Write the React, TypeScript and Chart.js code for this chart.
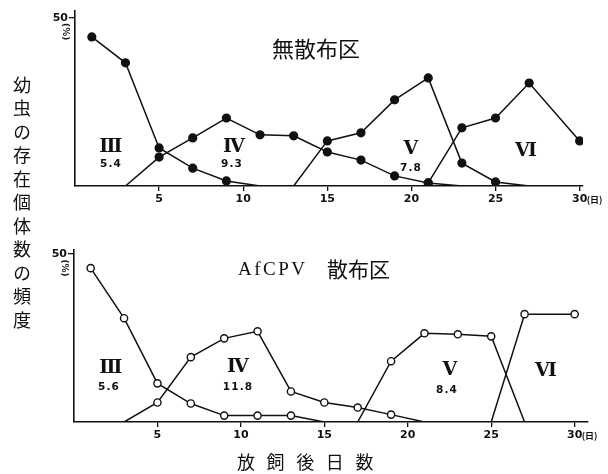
import React, { useEffect, useRef } from "react";
import { Chart, registerables } from "chart.js";

Chart.register(...registerables);

// ---- data ----
const tickDays = [5, 10, 15, 20, 25, 30];
const stageNames = ["III", "IV", "V", "VI"];

// 無散布区 (filled markers)
const ctrlIIIDays = [1, 3, 5, 7, 9, 11];
const ctrlIII = [44.3, 36.6, 11.3, 5.3, 1.5, 0];
const ctrlIVDays = [3, 5, 7, 9, 11, 13, 15, 17, 19, 21, 23];
const ctrlIV = [0, 8.6, 14.3, 20.2, 15.2, 14.9, 10.1, 7.7, 3.0, 0.9, 0];
const ctrlVDays = [13, 15, 17, 19, 21, 23, 25, 27];
const ctrlV = [0, 13.4, 15.8, 25.6, 32.1, 6.8, 1.2, 0];
const ctrlVIDays = [21, 23, 25, 27, 30];
const ctrlVI = [0.9, 17.3, 20.2, 30.6, 13.4];
const ctrlMeans = ["5.4", "9.3", "7.8"];

// AfCPV散布区 (open markers)
const virIIIDays = [1, 3, 5, 7, 9, 11, 13, 15];
const virIII = [45.8, 30.9, 11.5, 5.5, 1.9, 1.9, 1.9, 0];
const virIVDays = [3, 5, 7, 9, 11, 13, 15, 17, 19, 21];
const virIV = [0, 5.8, 19.3, 24.9, 27.0, 9.1, 5.8, 4.3, 2.2, 0];
const virVDays = [17, 19, 21, 23, 25, 27];
const virV = [0, 18.1, 26.4, 26.1, 25.5, 0];
const virVIDays = [25, 27, 30];
const virVI = [0, 32.1, 32.1];
const virMeans = ["5.6", "11.8", "8.4"];

const INK = "#111111";

const pts = (days: number[], vals: number[]) =>
  days.map((d, i) => ({ x: d, y: vals[i] }));

const axisExtras = {
  id: "axisExtras",
  afterDraw(chart: any) {
    const { ctx, scales } = chart;
    const x = scales.x;
    const y = scales.y;
    const py = y.getPixelForValue(50);
    ctx.save();
    ctx.fillStyle = INK;
    ctx.font = 'bold 11px "DejaVu Sans"';
    ctx.textAlign = "right";
    ctx.textBaseline = "middle";
    ctx.fillText("50", x.left - 7, py);
    ctx.translate(x.left - 10, py + 14);
    ctx.rotate(Math.PI / 2);
    ctx.font = 'bold 9px "DejaVu Sans"';
    ctx.textAlign = "center";
    ctx.fillText("(%)", 0, 0);
    ctx.restore();
    ctx.save();
    ctx.fillStyle = INK;
    ctx.font = 'bold 9px "Noto Sans CJK JP"';
    ctx.textAlign = "left";
    ctx.textBaseline = "middle";
    ctx.fillText("(日)", x.getPixelForValue(30) + 7, x.top + 13.5);
    ctx.restore();
  },
};

function makeConfig(
  series: { x: number; y: number }[][],
  filled: boolean,
  yMax: number,
  xMax: number,
  padding: { left: number; right: number; top: number; bottom: number }
): any {
  return {
    type: "line",
    data: {
      datasets: series.map((data, i) => ({
        label: stageNames[i],
        data,
        borderColor: INK,
        borderWidth: 1.5,
        backgroundColor: filled ? INK : "#ffffff",
        pointBackgroundColor: filled ? INK : "#ffffff",
        pointBorderColor: INK,
        pointBorderWidth: 1.4,
        pointRadius: (c: any) => (c.raw && c.raw.y === 0 ? 0 : filled ? 3.9 : 3.6),
        tension: 0,
        fill: false,
      })),
    },
    options: {
      responsive: false,
      animation: false,
      events: [],
      layout: { padding },
      plugins: { legend: { display: false }, tooltip: { enabled: false } },
      scales: {
        x: {
          type: "linear",
          min: 0,
          max: xMax,
          afterBuildTicks: (s: any) => {
            s.ticks = tickDays.map((v) => ({ value: v }));
          },
          grid: {
            drawOnChartArea: false,
            drawTicks: true,
            tickLength: 5,
            color: INK,
            lineWidth: 1.3,
          },
          border: { display: true, color: INK, width: 1.6 },
          ticks: {
            color: INK,
            padding: 3,
            maxRotation: 0,
            autoSkip: false,
            font: { family: '"DejaVu Sans"', weight: "bold", size: 11, lineHeight: 1 },
          },
        },
        y: {
          type: "linear",
          min: 0,
          max: yMax,
          afterBuildTicks: (s: any) => {
            s.ticks = [{ value: 50 }];
          },
          grid: {
            drawOnChartArea: false,
            drawTicks: true,
            tickLength: 6,
            color: INK,
            lineWidth: 1.3,
          },
          border: { display: true, color: INK, width: 1.6 },
          ticks: { display: false },
        },
      },
    },
    plugins: [axisExtras],
  };
}

function ChartCanvas({ config, top }: { config: any; top: number }) {
  const ref = useRef<HTMLCanvasElement | null>(null);
  useEffect(() => {
    if (!ref.current) return;
    const chart = new Chart(ref.current, config);
    return () => chart.destroy();
  }, [config]);
  return (
    <canvas
      ref={ref}
      width={608}
      height={237}
      style={{ position: "absolute", left: 0, top, width: 608, height: 237 }}
    />
  );
}

const topConfig = makeConfig(
  [pts(ctrlIIIDays, ctrlIII), pts(ctrlIVDays, ctrlIV), pts(ctrlVDays, ctrlV), pts(ctrlVIDays, ctrlVI)],
  true,
  52,
  30.2,
  { left: 69, right: 25, top: 11, bottom: 29 }
);

const bottomConfig = makeConfig(
  [pts(virIIIDays, virIII), pts(virIVDays, virIV), pts(virVDays, virV), pts(virVIDays, virVI)],
  false,
  51.2,
  30.8,
  { left: 68, right: 20, top: 13, bottom: 30 }
);

const romanFont = '"DejaVu Serif", serif';
const numFont = '"DejaVu Sans", sans-serif';
const cjk = '"Noto Sans CJK JP", sans-serif';

function Txt({
  x,
  y,
  children,
  style,
}: {
  x: number;
  y: number;
  children: React.ReactNode;
  style?: React.CSSProperties;
}) {
  return (
    <div
      style={{
        position: "absolute",
        left: x,
        top: y,
        transform: "translate(-50%, -50%)",
        whiteSpace: "nowrap",
        color: INK,
        lineHeight: 1,
        ...style,
      }}
    >
      {children}
    </div>
  );
}

const roman: React.CSSProperties = {
  fontFamily: romanFont,
  fontWeight: "bold",
  fontSize: 19,
  letterSpacing: -1.8,
};
const num: React.CSSProperties = {
  fontFamily: numFont,
  fontWeight: "bold",
  fontSize: 10.5,
  letterSpacing: 1.2,
};

export default function App() {
  return (
    <div
      style={{
        position: "absolute",
        left: 0,
        top: 0,
        width: 608,
        height: 474,
        background: "#ffffff",
        overflow: "hidden",
      }}
    >
      <ChartCanvas config={topConfig} top={0} />
      <ChartCanvas config={bottomConfig} top={237} />

      {/* titles */}
      <div
        style={{
          position: "absolute",
          left: 272,
          top: 36,
          fontFamily: cjk,
          fontSize: 22,
          lineHeight: "22px",
          color: INK,
          whiteSpace: "nowrap",
        }}
      >
        無散布区
      </div>
      <div
        style={{
          position: "absolute",
          left: 238,
          top: 259,
          fontFamily: '"Liberation Serif", serif',
          fontSize: 19,
          lineHeight: "20px",
          letterSpacing: 2.5,
          color: INK,
          whiteSpace: "nowrap",
        }}
      >
        AfCPV
      </div>
      <div
        style={{
          position: "absolute",
          left: 327,
          top: 258,
          fontFamily: cjk,
          fontSize: 21,
          lineHeight: "21px",
          color: INK,
          whiteSpace: "nowrap",
        }}
      >
        散布区
      </div>

      {/* y-axis title */}
      <div
        style={{
          position: "absolute",
          left: 7,
          top: 76,
          width: 30,
          writingMode: "vertical-rl",
          fontFamily: cjk,
          fontSize: 18,
          lineHeight: "30px",
          letterSpacing: 5.5,
          color: INK,
          whiteSpace: "nowrap",
        }}
      >
        幼虫の存在個体数の頻度
      </div>

      {/* x-axis title */}
      <div
        style={{
          position: "absolute",
          left: 237,
          top: 452,
          fontFamily: cjk,
          fontSize: 18,
          lineHeight: "18px",
          letterSpacing: 11.6,
          color: INK,
          whiteSpace: "nowrap",
        }}
      >
        放飼後日数
      </div>

      {/* stage labels: 無散布区 */}
      <Txt x={110} y={145} style={roman}>{stageNames[0]}</Txt>
      <Txt x={111} y={163} style={num}>{ctrlMeans[0]}</Txt>
      <Txt x={233} y={145} style={roman}>{stageNames[1]}</Txt>
      <Txt x={232} y={163} style={num}>{ctrlMeans[1]}</Txt>
      <Txt x={410} y={147} style={roman}>{stageNames[2]}</Txt>
      <Txt x={411} y={167} style={num}>{ctrlMeans[2]}</Txt>
      <Txt x={525} y={149} style={roman}>{stageNames[3]}</Txt>

      {/* stage labels: AfCPV散布区 */}
      <Txt x={110} y={366} style={roman}>{stageNames[0]}</Txt>
      <Txt x={109} y={386} style={num}>{virMeans[0]}</Txt>
      <Txt x={237} y={365} style={roman}>{stageNames[1]}</Txt>
      <Txt x={238} y={386} style={num}>{virMeans[1]}</Txt>
      <Txt x={449} y={368} style={roman}>{stageNames[2]}</Txt>
      <Txt x={447} y={389} style={num}>{virMeans[2]}</Txt>
      <Txt x={545} y={369} style={roman}>{stageNames[3]}</Txt>
    </div>
  );
}
